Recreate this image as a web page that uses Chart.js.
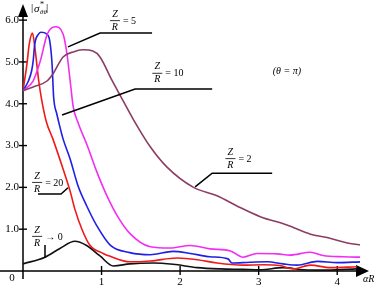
<!DOCTYPE html>
<html>
<head>
<meta charset="utf-8">
<script src="https://cdn.jsdelivr.net/npm/chart.js@4.4.1/dist/chart.umd.min.js"></script>
<style>
  html, body { margin: 0; padding: 0; background: #fff; }
  #wrap { width: 374px; height: 286px; position: relative; }
</style>
</head>
<body>
<div id="wrap"><canvas id="chart"></canvas></div>
<script>
// axis ticks
const X_TICKS = [1, 2, 3, 4];
const Y_TICKS = [1, 2, 3, 4, 5, 6];
const Y_TICK_LABELS = ['1.0', '2.0', '3.0', '4.0', '5.0', '6.0'];
const X_MAX = 4.29;
const Y_MAX = 6.29;

// Z/R = 20 (red)
const RED_X = [0, 0.05, 0.08, 0.12, 0.15, 0.2, 0.24, 0.3, 0.38, 0.51, 0.6, 0.66, 0.75, 0.85, 1.02, 1.11, 1.36, 1.62, 1.96, 2.22, 2.47, 2.8, 3.06, 3.27, 3.44, 3.66, 3.91, 4.25];
const RED_Y = [4.31, 4.95, 5.43, 5.69, 5.36, 4.55, 4.07, 3.55, 3.16, 2.44, 1.91, 1.48, 1.0, 0.62, 0.42, 0.35, 0.22, 0.24, 0.31, 0.27, 0.19, 0.14, 0.15, 0.13, 0.05, 0.14, 0.08, 0.1];

// Z/R = 10 (blue)
const BLUE_X = [0, 0.07, 0.11, 0.13, 0.15, 0.2, 0.23, 0.3, 0.34, 0.37, 0.39, 0.43, 0.46, 0.51, 0.6, 0.7, 0.81, 0.94, 1.11, 1.36, 1.62, 1.91, 2.13, 2.38, 2.61, 2.66, 2.89, 3.11, 3.31, 3.49, 3.75, 4.0, 4.3];
const BLUE_Y = [4.31, 4.55, 4.79, 5.03, 5.43, 5.67, 5.71, 5.67, 5.51, 4.95, 4.16, 3.76, 3.52, 3.16, 2.68, 2.04, 1.56, 1.08, 0.62, 0.44, 0.39, 0.47, 0.42, 0.34, 0.29, 0.19, 0.21, 0.22, 0.17, 0.14, 0.23, 0.2, 0.22];

// Z/R = 5 (magenta)
const MAG_X = [0, 0.13, 0.22, 0.31, 0.41, 0.51, 0.56, 0.6, 0.64, 0.7, 0.82, 0.94, 1.07, 1.2, 1.36, 1.62, 1.87, 2.13, 2.38, 2.64, 2.8, 2.98, 3.24, 3.4, 3.66, 3.82, 4.08, 4.33];
const MAG_Y = [4.31, 4.55, 5.02, 5.67, 5.84, 5.67, 5.19, 4.55, 3.92, 3.55, 2.99, 2.37, 1.79, 1.32, 0.9, 0.58, 0.55, 0.61, 0.53, 0.48, 0.33, 0.42, 0.41, 0.38, 0.45, 0.37, 0.34, 0.33];

// Z/R = 2 (brown)
const BROWN_X = [0, 0.13, 0.31, 0.38, 0.51, 0.64, 0.76, 0.89, 0.98, 1.13, 1.24, 1.4, 1.62, 1.83, 2.17, 2.47, 2.73, 3.02, 3.36, 3.66, 3.87, 4.13, 4.32];
const BROWN_Y = [4.31, 4.4, 4.55, 4.71, 5.12, 5.24, 5.29, 5.26, 5.12, 4.57, 4.19, 3.64, 2.97, 2.49, 2.0, 1.8, 1.55, 1.3, 1.1, 0.88, 0.8, 0.67, 0.62];

// Z/R -> 0 (black)
const BLACK_X = [0, 0.28, 0.47, 0.66, 0.81, 0.98, 1.15, 1.36, 1.66, 1.91, 2.22, 2.51, 2.8, 3.02, 3.31, 3.57, 3.87, 4.25];
const BLACK_Y = [0.17, 0.33, 0.54, 0.71, 0.61, 0.36, 0.12, 0.17, 0.19, 0.16, 0.08, 0.05, 0.04, 0.03, 0.08, 0.03, 0.02, 0.05];

// curve labels: [numerator, denominator, rest, x, y of fraction bar]
const LABELS = [
  ['Z', 'R', '= 5', 1.17, 6.0],
  ['Z', 'R', '= 10', 1.71, 4.74],
  ['Z', 'R', '= 2', 2.64, 2.70],
  ['Z', 'R', '= 20', 0.18, 2.13],
  ['Z', 'R', '\u2192 0', 0.18, 0.84],
];
// leader lines, in data units
const LEADERS = [
  [[0.573, 5.36], [0.981, 5.69], [1.643, 5.69]],
  [[0.497, 3.73], [1.427, 4.35], [2.408, 4.35]],
  [[2.191, 2.01], [2.408, 2.34], [3.172, 2.34]],
  [[0.191, 1.84], [0.484, 1.84], [0.573, 1.99]],
  [[0.28, 0.62], [0.28, 0.31]],
];

const pts = (xs, ys) => xs.map((x, i) => ({ x, y: ys[i] }));
const SERIF = '"Liberation Serif", "DejaVu Serif", serif';

const decor = {
  id: 'decor',
  beforeDatasetsDraw(chart) {
    const { ctx, chartArea, scales: { x, y } } = chart;
    const ox = x.getPixelForValue(0);
    const oy = y.getPixelForValue(0);
    ctx.save();
    ctx.strokeStyle = '#000';
    ctx.fillStyle = '#000';
    ctx.lineWidth = 1.5;
    ctx.beginPath();
    ctx.moveTo(ox, oy + 8);
    ctx.lineTo(ox, chartArea.top + 6);
    ctx.moveTo(0, oy);
    ctx.lineTo(chartArea.right - 2, oy);
    ctx.stroke();
    // arrows
    ctx.beginPath();
    ctx.moveTo(ox, chartArea.top - 4);
    ctx.lineTo(ox - 5, chartArea.top + 9);
    ctx.lineTo(ox + 5, chartArea.top + 9);
    ctx.closePath();
    ctx.fill();
    ctx.beginPath();
    ctx.moveTo(chartArea.right + 9, oy);
    ctx.lineTo(chartArea.right - 4, oy - 6);
    ctx.lineTo(chartArea.right - 4, oy + 6);
    ctx.closePath();
    ctx.fill();
    // ticks
    ctx.lineWidth = 1.4;
    ctx.font = '11px ' + SERIF;
    ctx.textBaseline = 'middle';
    ctx.textAlign = 'right';
    Y_TICKS.forEach((v, i) => {
      const py = y.getPixelForValue(v);
      ctx.beginPath();
      ctx.moveTo(ox - 4, py);
      ctx.lineTo(ox + 4, py);
      ctx.stroke();
      ctx.fillText(Y_TICK_LABELS[i], ox - 4, py);
    });
    ctx.textAlign = 'center';
    X_TICKS.forEach((v) => {
      const px = x.getPixelForValue(v);
      ctx.beginPath();
      ctx.moveTo(px, oy - 5);
      ctx.lineTo(px, oy + 4);
      ctx.stroke();
      ctx.fillText(String(v), px, oy + 11);
    });
    ctx.fillText('0', ox - 11, oy + 7);
    ctx.restore();
  },
  afterDatasetsDraw(chart) {
    const { ctx, chartArea, scales: { x, y } } = chart;
    const X = (v) => x.getPixelForValue(v);
    const Y = (v) => y.getPixelForValue(v);
    ctx.save();
    ctx.strokeStyle = '#000';
    ctx.fillStyle = '#000';
    ctx.lineWidth = 1.5;
    LEADERS.forEach((line) => {
      ctx.beginPath();
      line.forEach(([a, b], i) => (i ? ctx.lineTo(X(a), Y(b)) : ctx.moveTo(X(a), Y(b))));
      ctx.stroke();
    });
    ctx.lineWidth = 0.8;
    ctx.textBaseline = 'middle';
    LABELS.forEach(([num, den, rest, lx, ly]) => {
      const cx = X(lx), cy = Y(ly);
      ctx.font = 'italic 10px ' + SERIF;
      ctx.textAlign = 'center';
      ctx.fillText(num, cx, cy - 6);
      ctx.fillText(den, cx, cy + 7);
      ctx.beginPath();
      ctx.moveTo(cx - 5, cy + 0.5);
      ctx.lineTo(cx + 5, cy + 0.5);
      ctx.stroke();
      ctx.font = '10px ' + SERIF;
      ctx.textAlign = 'left';
      ctx.fillText(rest, cx + 8, cy + 1);
    });
    // theta note
    ctx.font = 'italic 10px ' + SERIF;
    ctx.textAlign = 'center';
    ctx.fillText('(\u03b8 = \u03c0)', X(3.36), Y(4.78));
    // axis titles
    const ox = X(0);
    ctx.textAlign = 'left';
    ctx.font = '11px ' + SERIF;
    ctx.fillText('|', ox + 8, 8);
    ctx.fillText('|', ox + 23, 8);
    ctx.font = 'italic 11px ' + SERIF;
    ctx.fillText('\u03c3', ox + 11, 9);
    ctx.font = '8px ' + SERIF;
    ctx.fillText('*', ox + 17, 5);
    ctx.font = 'italic 7px ' + SERIF;
    ctx.fillText('\u03b8\u03b8', ox + 17, 12);
    ctx.font = 'italic 10px ' + SERIF;
    ctx.fillText('\u03b1R', chartArea.right + 3, Y(0) + 8);
    ctx.restore();
  },
};

const line = (data, color) => ({
  data,
  borderColor: color,
  borderWidth: 1.6,
  pointRadius: 0,
  fill: false,
  cubicInterpolationMode: 'monotone',
});

new Chart(document.getElementById('chart'), {
  type: 'line',
  data: {
    datasets: [
      line(pts(BROWN_X, BROWN_Y), '#8b3d63'),
      line(pts(MAG_X, MAG_Y), '#f22ef2'),
      line(pts(BLUE_X, BLUE_Y), '#1f1fe6'),
      line(pts(RED_X, RED_Y), '#f01818'),
      line(pts(BLACK_X, BLACK_Y), '#111111'),
    ],
  },
  options: {
    responsive: true,
    maintainAspectRatio: false,
    animation: false,
    layout: { padding: { left: 23, right: 14, top: 8, bottom: 15 } },
    plugins: { legend: { display: false }, tooltip: { enabled: false } },
    scales: {
      x: { type: 'linear', min: 0, max: X_MAX, display: false },
      y: { type: 'linear', min: 0, max: Y_MAX, display: false },
    },
  },
  plugins: [decor],
});
</script>
</body>
</html>
